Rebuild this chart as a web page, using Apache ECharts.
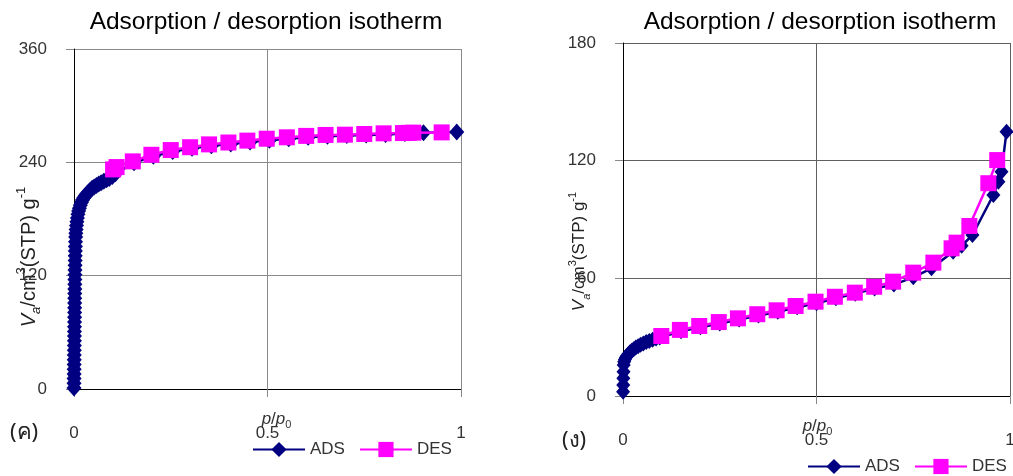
<!DOCTYPE html>
<html>
<head>
<meta charset="utf-8">
<script src="https://cdn.jsdelivr.net/npm/echarts@6/dist/echarts.min.js"></script>
<style>
html,body{margin:0;padding:0;background:#fff;}
#c{width:1013px;height:476px;}
</style>
</head>
<body>
<div id="c"></div>
<script>
// ---------- data ----------
var titleText = 'Adsorption / desorption isotherm';
var panelLabels = ['(ค)', '(ง)'];
var seriesNames = ['ADS', 'DES'];
var xTicks = [0, 0.5, 1];
var yTicksLeft = [0, 120, 240, 360];
var yTicksRight = [0, 60, 120, 180];

// panel (ค): [p/p0, Va]
var adsLeft = [
  [0.0000,1],[0.0001,6],[0.0002,11],[0.0003,16],[0.0004,21],[0.0005,26],[0.0006,31],[0.0007,36],
  [0.0008,41],[0.0009,46],[0.0010,51],[0.0011,56],[0.0012,61],[0.0013,66],[0.0014,71],[0.0015,76],
  [0.0016,81],[0.0017,86],[0.0018,91],[0.0019,96],[0.0020,101],[0.0021,106],[0.0022,111],[0.0023,116],
  [0.0024,121],[0.0026,126],[0.0028,131],[0.0030,136],[0.0032,141],[0.0034,146],[0.0036,151],[0.0039,156],
  [0.0043,161],[0.0048,165],[0.0055,169],[0.0064,173],[0.0075,177],[0.0088,181],[0.0103,185],[0.012,188.5],
  [0.014,191.5],[0.0163,194.5],[0.019,197.5],[0.022,200],[0.0255,202.5],[0.029,204.5],[0.033,206.5],
  [0.0375,208.5],[0.042,210.5],[0.047,212.5],[0.052,214],[0.058,215.5],[0.064,217],[0.070,218.5],
  [0.077,220],[0.084,221.5],[0.091,223],[0.099,225],[0.107,228],
  [0.155,239.5],[0.205,246.5],[0.255,251.5],[0.305,255],[0.355,257.5],[0.405,259.5],[0.455,261.5],
  [0.505,263.5],[0.555,265],[0.605,266.5],[0.655,267.5],[0.705,268.5],[0.755,269],[0.805,269.5],
  [0.855,270.5],[0.903,271.3],[0.989,272]
];
var desLeft = [
  [0.95,271.7],[0.877,271.4],[0.865,271.2],[0.85,271],[0.8,270.7],[0.75,270],[0.7,269.3],[0.65,269],
  [0.6,268],[0.55,266.5],[0.498,265],[0.448,263],[0.399,261],[0.349,259],[0.3,256],[0.25,253],
  [0.2,248],[0.152,241],[0.11,235],[0.101,232.5]
];

// panel (ง): [p/p0, Va]
var adsRight = [
  [0.0003,2.2],[0.0006,5.6],[0.0009,9],[0.0013,12.4],[0.0018,15.8],[0.003,17.5],[0.005,18.6],
  [0.0075,19.6],[0.0105,20.5],[0.014,21.4],[0.018,22.3],[0.0225,23.1],[0.0275,23.9],[0.033,24.7],
  [0.039,25.4],[0.0455,26.1],[0.0525,26.8],[0.06,27.5],[0.068,28.1],[0.0765,28.7],[0.0855,29.3],
  [0.095,29.8],
  [0.15,33],[0.2,35],[0.25,37],[0.3,39],[0.35,41],[0.4,43],[0.45,45.2],[0.5,47.3],[0.55,49.8],
  [0.6,52.2],[0.65,54.8],[0.7,56.8],[0.75,60.5],[0.797,65.1],[0.853,73.5],[0.875,76.6],[0.903,82.1],
  [0.957,102.5],[0.97,109.3],[0.978,114.4],[0.991,134.8]
];
var desRight = [
  [0.967,120.3],[0.944,108.5],[0.895,86.7],[0.862,78.2],[0.849,75.3],[0.802,68],[0.75,62.9],
  [0.698,58.3],[0.649,55.7],[0.599,52.7],[0.5475,50.6],[0.4975,48.1],[0.446,45.9],[0.397,43.7],
  [0.347,41.7],[0.297,39.6],[0.2475,37.7],[0.197,35.7],[0.147,33.7],[0.099,30.6]
];

// ---------- styling ----------
var FONT = 'Liberation Sans, Arial, sans-serif';
var ADS_COLOR = '#000080';
var DES_COLOR = '#FF00FF';

function yName(fs) {
  return {
    text: '{i|V}{sub|a}{n|/cm}{sup|3}{n|(STP) g}{sup|-1}',
    rich: {
      i: {fontStyle: 'italic', fontSize: fs, fontFamily: FONT, color: '#222', lineHeight: fs + 8},
      n: {fontSize: fs, fontFamily: FONT, color: '#222', lineHeight: fs + 8},
      sub: {fontStyle: 'italic', fontSize: Math.round(fs * 0.65), fontFamily: FONT, color: '#222', verticalAlign: 'bottom', lineHeight: fs + 8},
      sup: {fontSize: Math.round(fs * 0.65), fontFamily: FONT, color: '#222', verticalAlign: 'top', lineHeight: fs + 8}
    }
  };
}
var xNameText = '{i|p}{n|/}{i|p}{sub|0}';
var xNameRich = {
  i: {fontStyle: 'italic', fontSize: 17, fontFamily: FONT, color: '#333', lineHeight: 22},
  n: {fontSize: 17, fontFamily: FONT, color: '#333', lineHeight: 22},
  sub: {fontSize: 11, fontFamily: FONT, color: '#333', verticalAlign: 'bottom', lineHeight: 22}
};

function xAxisOpt(gridIndex, gridColor, nameShift) {
  return {
    type: 'value', gridIndex: gridIndex,
    min: xTicks[0], max: xTicks[xTicks.length - 1], interval: xTicks[1] - xTicks[0],
    name: xNameText, nameLocation: 'middle', nameGap: 19, nameMoveOverlap: false,
    nameTextStyle: {rich: xNameRich, padding: [0, 0, 0, nameShift]},
    axisLine: {show: true, onZero: false, lineStyle: {color: '#000', width: 1}},
    axisTick: {show: true, length: 8, lineStyle: {color: '#888'}},
    axisLabel: {margin: 36, fontSize: 17, fontFamily: FONT, color: '#333', showMinLabel: true, showMaxLabel: true, hideOverlap: false},
    splitLine: {show: true, lineStyle: {color: gridColor, width: 1}}
  };
}
function yAxisOpt(gridIndex, ticks, fs, shift, gridColor) {
  var nm = yName(fs);
  return {
    type: 'value', gridIndex: gridIndex,
    min: ticks[0], max: ticks[ticks.length - 1], interval: ticks[1] - ticks[0],
    name: nm.text, nameLocation: 'middle', nameGap: 31, nameMoveOverlap: false,
    nameTextStyle: {rich: nm.rich, padding: [0, shift, 0, 0]},
    axisLine: {show: true, lineStyle: {color: '#000', width: 1}},
    axisTick: {show: true, length: 8, lineStyle: {color: '#888'}},
    axisLabel: {margin: 27, fontSize: 17, fontFamily: FONT, color: '#333'},
    splitLine: {show: true, lineStyle: {color: gridColor, width: 1}}
  };
}
function adsSeries(idx, data, size) {
  return {
    name: seriesNames[0], type: 'line', xAxisIndex: idx, yAxisIndex: idx, data: data,
    symbol: 'diamond', symbolSize: [size, size + 2], clip: false,
    lineStyle: {color: ADS_COLOR, width: 2.5},
    itemStyle: {color: ADS_COLOR, borderColor: ADS_COLOR, borderWidth: 0},
    z: 2
  };
}
function desSeries(idx, data, size) {
  return {
    name: seriesNames[1], type: 'line', xAxisIndex: idx, yAxisIndex: idx, data: data,
    symbol: 'rect', symbolSize: size, clip: false,
    lineStyle: {color: DES_COLOR, width: 2.5},
    itemStyle: {color: DES_COLOR, borderColor: DES_COLOR, borderWidth: 0},
    z: 3
  };
}

var chart = echarts.init(document.getElementById('c'), null, {renderer: 'canvas'});
chart.setOption({
  animation: false,
  backgroundColor: '#fff',
  title: [
    {text: titleText, left: 261, top: 5, textAlign: 'center',
     textStyle: {fontSize: 24.5, fontWeight: 'normal', color: '#000', fontFamily: FONT}},
    {text: titleText, left: 815, top: 5, textAlign: 'center',
     textStyle: {fontSize: 24.5, fontWeight: 'normal', color: '#000', fontFamily: FONT}}
  ],
  legend: [
    {data: seriesNames, left: 247, top: 436, itemWidth: 52, itemHeight: 19, itemGap: 14,
     textStyle: {fontSize: 17, fontFamily: FONT, color: '#333'}},
    {data: seriesNames, left: 802, top: 453, itemWidth: 52, itemHeight: 19, itemGap: 14,
     textStyle: {fontSize: 17, fontFamily: FONT, color: '#333'}}
  ],
  grid: [
    {left: 74, top: 49, width: 387, height: 340, containLabel: false, outerBoundsMode: 'none'},
    {left: 623, top: 43, width: 387, height: 353, containLabel: false, outerBoundsMode: 'none'}
  ],
  xAxis: [xAxisOpt(0, '#8a8a8a', 18), xAxisOpt(1, '#606060', 2)],
  yAxis: [yAxisOpt(0, yTicksLeft, 20, 76, '#8a8a8a'), yAxisOpt(1, yTicksRight, 17, 64, '#606060')],
  series: [
    adsSeries(0, adsLeft, 15), desSeries(0, desLeft, 16),
    adsSeries(1, adsRight, 14), desSeries(1, desRight, 16)
  ],
  graphic: [
    {type: 'text', left: 10, top: 422, style: {text: panelLabels[0], fontSize: 22, fill: '#222', fontFamily: 'Noto Sans, DejaVu Sans, sans-serif'}},
    {type: 'text', left: 562, top: 430, style: {text: panelLabels[1], fontSize: 22, fill: '#222', fontFamily: 'Noto Sans, DejaVu Sans, sans-serif'}}
  ]
});
</script>
</body>
</html>
